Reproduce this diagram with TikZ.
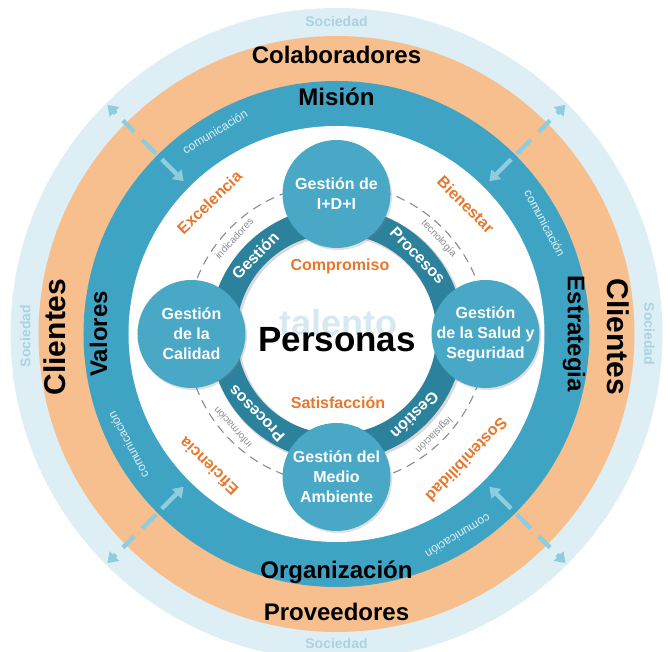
\documentclass[tikz,border=0pt]{standalone}
\usepackage{fontspec}
\setmainfont{Liberation Sans}
\usetikzlibrary{arrows.meta,shadows}
\definecolor{socfill}{HTML}{DDEFF5}
\definecolor{soctext}{HTML}{A9D3E1}
\definecolor{peach}{HTML}{F8BF8E}
\definecolor{ringteal}{HTML}{3FA3C3}
\definecolor{circteal}{HTML}{48A8C6}
\definecolor{darkteal}{HTML}{2C819C}
\definecolor{orangetext}{HTML}{E5782E}
\definecolor{arrowcol}{HTML}{8FCCDD}
\definecolor{talentocol}{HTML}{D6E9F0}
\definecolor{dashgray}{HTML}{8C8C8C}
\begin{document}
\begin{tikzpicture}[x=1pt,y=1pt,
  ringlab/.style={font=\fontsize{24}{24}\selectfont\bfseries, text=black, inner sep=0},
  bigring/.style={font=\fontsize{30}{30}\selectfont\bfseries, text=black, inner sep=0},
  soclab/.style={font=\fontsize{14}{14}\selectfont\bfseries, text=soctext, inner sep=0},
  comm/.style={font=\fontsize{12}{12}\selectfont, text=white!85!ringteal, inner sep=0},
  smallgray/.style={font=\fontsize{10}{10}\selectfont, text=dashgray, inner sep=0},
  ringword/.style={font=\fontsize{16}{16}\selectfont\bfseries, text=white, inner sep=0},
  orangew/.style={font=\fontsize{16}{16}\selectfont\bfseries, text=orangetext, inner sep=0},
  smallc/.style={circle, fill=circteal, minimum size=108pt, inner sep=0,
     drop shadow={opacity=0.25, shadow xshift=1.5pt, shadow yshift=-2pt}},
  circlab/.style={align=center, text=white, font=\fontsize{16}{20}\selectfont\bfseries, inner sep=0},
  arr/.style={draw=arrowcol, line width=4.5pt},
  arrtip/.style={-{Triangle[length=10pt,width=13pt]}}
]
\useasboundingbox (-336.5,-318) rectangle (333.5,334);
\clip (-336.5,-318) rectangle (333.5,334);
% rings
\fill[socfill] (0,0) circle (326);
\fill[peach] (0,0) circle (298);
\fill[ringteal] (0,0) circle (253);
\fill[white] (0,0) circle (208);
% outer labels
\node[soclab] (socT) at (0,312) {Sociedad};
\node[soclab] (socB) at (0,-309) {Sociedad};
\node[soclab, rotate=90] (socL) at (-311,-2) {Sociedad};
\node[soclab, rotate=-90] (socR) at (313,0) {Sociedad};
\node[ringlab] (colab) at (0,279) {Colaboradores};
\node[ringlab] (prov) at (0,-278) {Proveedores};
\node[bigring, rotate=90] (cliL) at (-281.5,-3) {Clientes};
\node[bigring, rotate=-90] (cliR) at (281.5,-3) {Clientes};
\node[ringlab] (mision) at (0,237) {Misión};
\node[ringlab] (organ) at (0,-238) {Organización};
\node[ringlab, rotate=90] (valores) at (-238,0) {Valores};
\node[ringlab, rotate=-90] (estrat) at (237.5,0) {Estrategia};
% arrows
\foreach \a in {45,135,225,315} {
  \draw[arr, arrtip] (\a:312) -- (\a:324);
  \draw[arr] (\a:286) -- (\a:302);
  \draw[arr] (\a:255) -- (\a:275);
  \draw[arr, arrtip] (\a:247) -- (\a:216);
}
% comunicacion
\node[comm, rotate=31] (com1) at (121:236) {comunicación};
\node[comm, rotate=-62] (com2) at (28:236) {comunicación};
\node[comm, rotate=118] (com3) at (208:236) {comunicación};
\node[comm, rotate=211] (com4) at (301:236) {comunicación};
% dashed circle
\draw[dashgray, dash pattern=on 9pt off 6pt, line width=1.1pt] (0,0) circle (150);
% dark ring
\draw[black, opacity=0.15, line width=29pt] (1.5,-1.5) circle (113.5);
\draw[darkteal, line width=27pt] (0,0) circle (113.5);
% small gray texts
\node[smallgray, rotate=47] (ind) at (137:140) {indicadores};
\node[smallgray, rotate=-47] (tec) at (43:140) {tecnología};
\node[smallgray, rotate=132] (inf) at (222:140) {información};
\node[smallgray, rotate=224] (leg) at (314:140) {legislación};
% ring words
\node[ringword, rotate=46] (g1) at (136:113) {Gestión};
\node[ringword, rotate=-46] (p1) at (44:113) {Procesos};
\node[ringword, rotate=135] (p2) at (225:113) {Procesos};
\node[ringword, rotate=224] (g2) at (314:113) {Gestión};
% small circles
\node[smallc] (cT) at (90:140) {};
\node[smallc] (cL) at (180:145) {};
\node[smallc] (cR) at (0:149) {};
\node[smallc] (cB) at (270:143) {};
\node[circlab] (lT) at (cT) {Gestión de\\I+D+I};
\node[circlab] (lL) at (cL) {Gestión\\de la\\Calidad};
\node[circlab] (lR) at (cR) {Gestión\\de la Salud y\\Seguridad};
\node[circlab] (lB) at (cB) {Gestión del\\Medio\\Ambiente};
% orange words
\node[orangew, rotate=44] (exc) at (134:183) {Excelencia};
\node[orangew, rotate=-45] (bien) at (45:183) {Bienestar};
\node[orangew, rotate=136] (efi) at (226:184) {Eficiencia};
\node[orangew, rotate=226] (sost) at (316:181) {Sostenibilidad};
\node[orangew] (comp) at (3.5,68) {Compromiso};
\node[orangew] (sat) at (1.5,-69) {Satisfacción};
% centre
\node[font=\fontsize{36}{36}\selectfont\bfseries, text=talentocol, anchor=base, inner sep=0] (tal) at (2,-2) {talento};
\node[font=\fontsize{35}{35}\selectfont\bfseries, text=black, anchor=base, inner sep=0] (pers) at (0.5,-18) {Personas};
\end{tikzpicture}
\end{document}
